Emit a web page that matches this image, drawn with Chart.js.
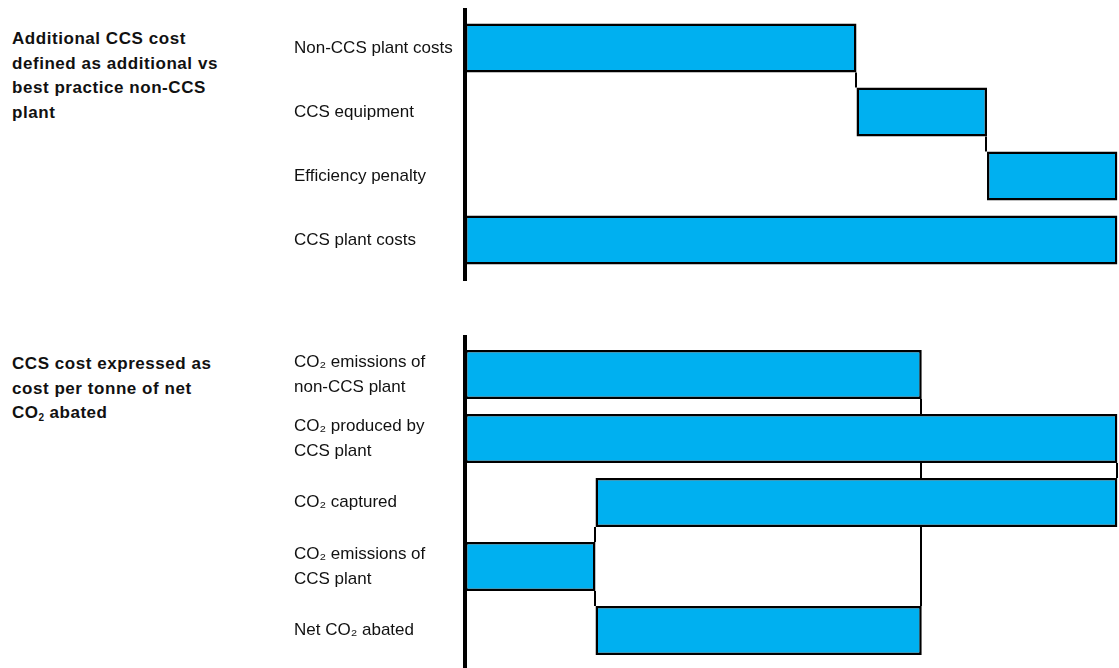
<!DOCTYPE html>
<html>
<head>
<meta charset="utf-8">
<script src="https://cdn.jsdelivr.net/npm/chart.js@4/dist/chart.umd.min.js"></script>
<style>
  html, body { margin: 0; padding: 0; background: #fff; }
  body { width: 1119px; height: 668px; position: relative; overflow: hidden; }
  canvas { position: absolute; left: 0; }
  .caption {
    position: absolute; left: 12px;
    font-family: "Liberation Sans", Arial, sans-serif;
    font-weight: bold; font-size: 17px; line-height: 24.5px;
    letter-spacing: 0.55px; color: #111;
  }
  .caption sub { font-size: 10px; vertical-align: -3px; letter-spacing: 0; }
</style>
</head>
<body>
<div class="caption" style="top:27px">Additional CCS cost<br>defined as additional vs<br>best practice non-CCS<br>plant</div>
<div class="caption" style="top:352px">CCS cost expressed as<br>cost per tonne of net<br>CO<sub>2</sub> abated</div>
<canvas id="costChart" width="1119" height="300" style="top:0"></canvas>
<canvas id="co2Chart" width="1119" height="348" style="top:320px"></canvas>
<script>
// Cost build-up (relative units, CCS plant = 100)
const costCategories = ['Non-CCS plant costs', 'CCS equipment', 'Efficiency penalty', 'CCS plant costs'];
const costStart = [0, 60, 80, 0];
const costEnd = [60, 80, 100, 100];
// step connectors: [value, from bar, to bar]
const costLinks = [[60, 0, 1], [80, 1, 2]];

// CO2 balance (relative units, CO2 produced by CCS plant = 100)
const co2Categories = [
  ['CO₂ emissions of', 'non-CCS plant'],
  ['CO₂ produced by', 'CCS plant'],
  'CO₂ captured',
  ['CO₂ emissions of', 'CCS plant'],
  'Net CO₂ abated'
];
const co2Start = [0, 0, 20, 0, 20];
const co2End = [70, 100, 100, 20, 70];
const co2Links = [[70, 0, 1], [70, 1, 2], [100, 1, 2], [70, 2, 4], [20, 2, 3], [20, 3, 4]];

const BAR_BLUE = '#00B0F0';

// draws the step connectors and the thick left axis line
const stepLines = {
  id: 'stepLines',
  afterDatasetsDraw(chart, args, opts) {
    const ctx = chart.ctx;
    const xs = chart.scales.x;
    const bars = chart.getDatasetMeta(0).data;
    ctx.save();
    ctx.strokeStyle = '#000';
    ctx.lineWidth = 2;
    (opts.links || []).forEach(([v, a, b]) => {
      const x = Math.round(xs.getPixelForValue(v)) - 1;
      const ya = bars[a].y + bars[a].height / 2;
      const yb = bars[b].y - bars[b].height / 2;
      ctx.beginPath();
      ctx.moveTo(x, ya);
      ctx.lineTo(x, yb);
      ctx.stroke();
    });
    const area = chart.chartArea;
    ctx.lineWidth = 4;
    ctx.beginPath();
    ctx.moveTo(area.left, area.top - opts.extTop);
    ctx.lineTo(area.left, area.bottom + opts.extBottom);
    ctx.stroke();
    ctx.restore();
  }
};

function buildChart(id, labels, starts, ends, links, padTop, padBottom, extTop, extBottom) {
  return new Chart(document.getElementById(id), {
    type: 'bar',
    data: {
      labels: labels,
      datasets: [{
        data: starts.map((s, i) => [s, ends[i]]),
        backgroundColor: BAR_BLUE,
        borderColor: '#000',
        borderWidth: 2.5,
        borderSkipped: false,
        barPercentage: 0.766,
        categoryPercentage: 1
      }]
    },
    options: {
      indexAxis: 'y',
      responsive: false,
      animation: false,
      layout: { padding: { left: 294, right: 1.5, top: padTop, bottom: padBottom } },
      plugins: {
        legend: { display: false },
        tooltip: { enabled: false },
        stepLines: { links: links, extTop: extTop, extBottom: extBottom }
      },
      scales: {
        x: { display: false, min: 0, max: 100 },
        y: {
          grid: { display: false },
          border: { display: false },
          afterFit(scale) {
            scale.width = 171;
            scale.paddingTop = 0;
            scale.paddingBottom = 0;
          },
          ticks: {
            crossAlign: 'far',
            color: '#111',
            font: { family: '"Liberation Sans", Arial, sans-serif', size: 17, lineHeight: 1.47 }
          }
        }
      }
    },
    plugins: [stepLines]
  });
}

buildChart('costChart', costCategories, costStart, costEnd, costLinks, 16, 28, 8, 9);
buildChart('co2Chart', co2Categories, co2Start, co2End, co2Links, 22.5, 5.5, 7.5, 8);
</script>
</body>
</html>
